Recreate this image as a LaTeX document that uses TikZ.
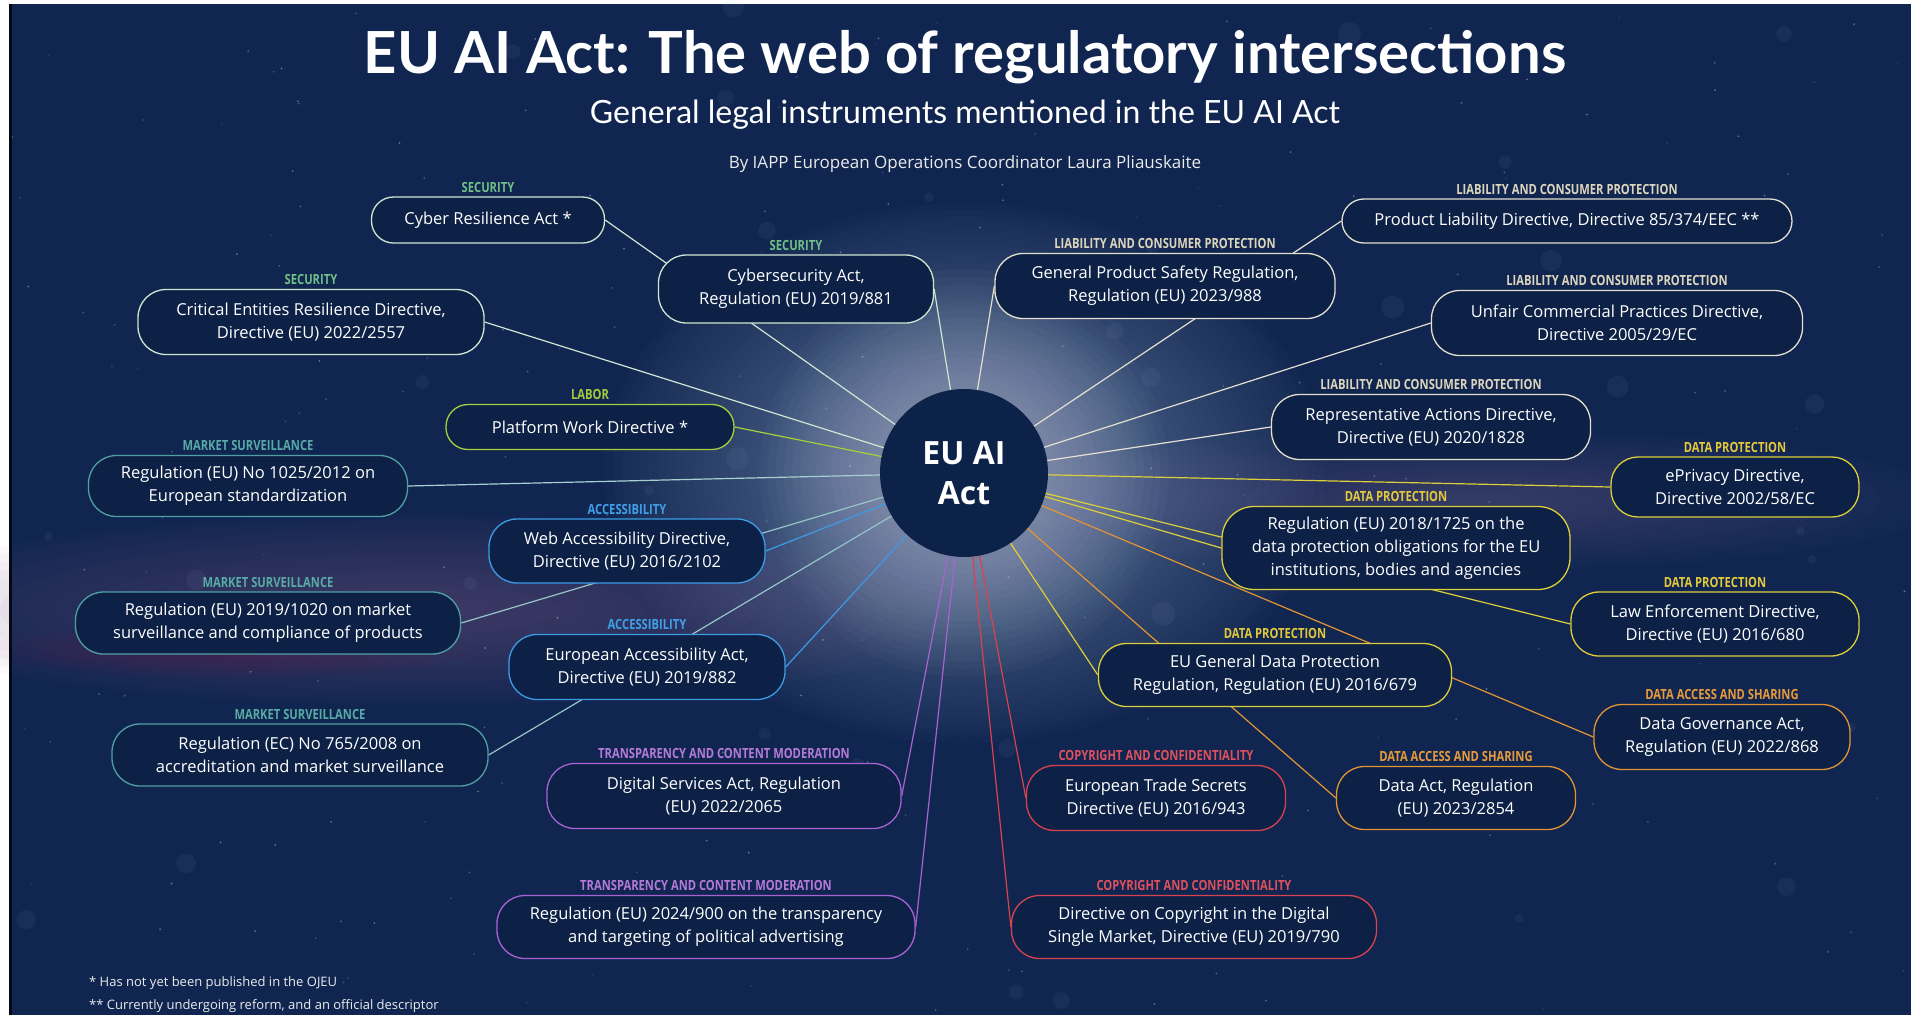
\documentclass[tikz,border=0pt]{standalone}
\usepackage{fontspec}
\setmainfont{Open Sans}
\newfontfamily\latofont{Lato}
\newfontfamily\catfont[FakeStretch=0.8]{Open Sans}
\pgfdeclarelayer{bgl}
\pgfdeclarelayer{lnl}
\pgfsetlayers{bgl,lnl,main}
\definecolor{bgc}{RGB}{16,38,80}
\definecolor{boxfill}{RGB}{13,33,70}
\definecolor{hubc}{RGB}{13,34,72}
\definecolor{glowc}{RGB}{180,198,236}
\definecolor{hazeL}{RGB}{125,85,145}
\definecolor{hazeR}{RGB}{115,105,155}
\definecolor{secB}{HTML}{CFE6D2}
\definecolor{secL}{HTML}{6FBF86}
\definecolor{liabB}{HTML}{E4E0D0}
\definecolor{liabL}{HTML}{DDD6BC}
\definecolor{lbB}{HTML}{A6CF3C}
\definecolor{lbL}{HTML}{A3C93D}
\definecolor{mkB}{HTML}{4F9FA3}
\definecolor{mkL}{HTML}{57AAA5}
\definecolor{acB}{HTML}{3D9BE6}
\definecolor{acL}{HTML}{3F9FE8}
\definecolor{trB}{HTML}{A962D3}
\definecolor{trL}{HTML}{B57AD9}
\definecolor{cpB}{HTML}{D9424F}
\definecolor{cpL}{HTML}{E0505C}
\definecolor{daB}{HTML}{E39535}
\definecolor{daL}{HTML}{E89A3A}
\definecolor{dpB}{HTML}{DCCF3A}
\definecolor{dpL}{HTML}{E3C93B}
\tikzset{
  box/.style={draw=#1, fill=boxfill, line width=1.3pt, rounded corners=22pt,
    text=white, align=center, inner sep=0pt,
    font=\fontsize{16.5}{23}\selectfont},
  cat/.style={text=#1, inner sep=1pt, font=\catfont\bfseries\fontsize{14}{15}\selectfont},
  ln/.style={draw=#1, line width=1.2pt},
  every label/.style={label distance=3pt}
}
\begin{document}
\begin{tikzpicture}[x=1pt,y=-1pt]
\useasboundingbox (0,0) rectangle (1911,1015);

% ---------- nodes ----------
\node[circle, fill=hubc, minimum size=168pt, inner sep=0pt, text=white, align=center,
  font=\bfseries\fontsize{32}{40}\selectfont] (hub) at (964,473) {EU AI\\Act};

\node[box=secB, minimum width=233pt, minimum height=46pt, label={[cat=secL]above:SECURITY}] (cra) at (488,220) {Cyber Resilience Act *};
\node[box=secB, minimum width=346pt, minimum height=65pt, rounded corners=28pt, label={[cat=secL]above:SECURITY}] (cer) at (311,322) {Critical Entities Resilience Directive,\\Directive (EU) 2022/2557};
\node[box=secB, minimum width=275pt, minimum height=68pt, rounded corners=28pt, label={[cat=secL]above:SECURITY}] (csa) at (796,289) {Cybersecurity Act,\\Regulation (EU) 2019/881};

\node[box=liabB, minimum width=340pt, minimum height=65pt, rounded corners=28pt, label={[cat=liabL]above:LIABILITY AND CONSUMER PROTECTION}] (gpsr) at (1165,286) {General Product Safety Regulation,\\Regulation (EU) 2023/988};
\node[box=liabB, minimum width=450pt, minimum height=44pt, label={[cat=liabL]above:LIABILITY AND CONSUMER PROTECTION}] (pld) at (1567,221) {Product Liability Directive, Directive 85/374/EEC **};
\node[box=liabB, minimum width=371pt, minimum height=65pt, rounded corners=28pt, label={[cat=liabL]above:LIABILITY AND CONSUMER PROTECTION}] (ucpd) at (1617,323) {Unfair Commercial Practices Directive,\\Directive 2005/29/EC};
\node[box=liabB, minimum width=319pt, minimum height=65pt, rounded corners=28pt, label={[cat=liabL]above:LIABILITY AND CONSUMER PROTECTION}] (rad) at (1431,427) {Representative Actions Directive,\\Directive (EU) 2020/1828};

\node[box=dpB, minimum width=248pt, minimum height=60pt, rounded corners=27pt, label={[cat=dpL]above:DATA PROTECTION}] (epd) at (1735,487) {ePrivacy Directive,\\Directive 2002/58/EC};
\node[box=dpB, minimum width=348pt, minimum height=83pt, rounded corners=32pt, label={[cat=dpL]above:DATA PROTECTION}] (r1725) at (1396,548) {Regulation (EU) 2018/1725 on the\\data protection obligations for the EU\\institutions, bodies and agencies};
\node[box=dpB, minimum width=288pt, minimum height=64pt, rounded corners=28pt, label={[cat=dpL]above:DATA PROTECTION}] (led) at (1715,624) {Law Enforcement Directive,\\Directive (EU) 2016/680};
\node[box=dpB, minimum width=353pt, minimum height=63pt, rounded corners=28pt, label={[cat=dpL]above:DATA PROTECTION}] (gdpr) at (1275,675) {EU General Data Protection\\Regulation, Regulation (EU) 2016/679};

\node[box=daB, minimum width=256pt, minimum height=65pt, rounded corners=28pt, label={[cat=daL]above:DATA ACCESS AND SHARING}] (dga) at (1722,737) {Data Governance Act,\\Regulation (EU) 2022/868};
\node[box=daB, minimum width=239pt, minimum height=63pt, rounded corners=28pt, label={[cat=daL]above:DATA ACCESS AND SHARING}] (dact) at (1456,798) {Data Act, Regulation\\(EU) 2023/2854};

\node[box=cpB, minimum width=259pt, minimum height=65pt, rounded corners=28pt, label={[cat=cpL]above:COPYRIGHT AND CONFIDENTIALITY}] (ets) at (1156,798) {European Trade Secrets\\Directive (EU) 2016/943};
\node[box=cpB, minimum width=365pt, minimum height=63pt, rounded corners=28pt, label={[cat=cpL]above:COPYRIGHT AND CONFIDENTIALITY}] (cdsm) at (1194,927) {Directive on Copyright in the Digital\\Single Market, Directive (EU) 2019/790};

\node[box=trB, minimum width=354pt, minimum height=65pt, rounded corners=28pt, label={[cat=trL]above:TRANSPARENCY AND CONTENT MODERATION}] (dsa) at (724,796) {Digital Services Act, Regulation\\(EU) 2022/2065};
\node[box=trB, minimum width=418pt, minimum height=63pt, rounded corners=28pt, label={[cat=trL]above:TRANSPARENCY AND CONTENT MODERATION}] (r900) at (706,927) {Regulation (EU) 2024/900 on the transparency\\and targeting of political advertising};

\node[box=mkB, minimum width=376pt, minimum height=62pt, rounded corners=28pt, label={[cat=mkL]above:MARKET SURVEILLANCE}] (r765) at (300,755) {Regulation (EC) No 765/2008 on\\accreditation and market surveillance};
\node[box=acB, minimum width=276pt, minimum height=65pt, rounded corners=28pt, label={[cat=acL]above:ACCESSIBILITY}] (eaa) at (647,667) {European Accessibility Act,\\Directive (EU) 2019/882};
\node[box=mkB, minimum width=385pt, minimum height=62pt, rounded corners=28pt, label={[cat=mkL]above:MARKET SURVEILLANCE}] (r1020) at (268,623) {Regulation (EU) 2019/1020 on market\\surveillance and compliance of products};
\node[box=acB, minimum width=276pt, minimum height=64pt, rounded corners=28pt, label={[cat=acL]above:ACCESSIBILITY}] (wad) at (627,551) {Web Accessibility Directive,\\Directive (EU) 2016/2102};
\node[box=mkB, minimum width=319pt, minimum height=61pt, rounded corners=28pt, label={[cat=mkL]above:MARKET SURVEILLANCE}] (r1025) at (248,486) {Regulation (EU) No 1025/2012 on\\European standardization};
\node[box=lbB, minimum width=288pt, minimum height=45pt, label={[cat=lbL]above:LABOR}] (pwd) at (590,427) {Platform Work Directive *};

% ---------- titles ----------
\node[anchor=base, text=white, font=\latofont\bfseries\fontsize{58}{64}\selectfont, inner sep=0pt] (title) at (965,73) {EU AI Act: The web of regulatory intersections};
\node[anchor=base, text=white, font=\latofont\fontsize{32}{36}\selectfont, inner sep=0pt] (subtitle) at (965,123) {General legal instruments mentioned in the EU AI Act};
\node[anchor=base, text=white!92!black, font=\fontsize{17}{20}\selectfont, inner sep=0pt] (byline) at (965,168) {By IAPP European Operations Coordinator Laura Pliauskaite};

\node[anchor=base west, text=white!92!black, font=\fontsize{13}{15}\selectfont, inner sep=0pt] (fn1) at (89,986) {* Has not yet been published in the OJEU};
\node[anchor=base west, text=white!92!black, font=\fontsize{13}{15}\selectfont, inner sep=0pt] (fn2) at (89,1009) {** Currently undergoing reform, and an official descriptor};

% ---------- connectors ----------
\begin{pgfonlayer}{lnl}
\draw[ln=secB] (hub.center) -- (cra.east);
\draw[ln=secB] (hub.center) -- (cer.east);
\draw[ln=secB] (hub.center) -- (csa.east);
\draw[ln=liabB] (hub.center) -- (gpsr.west);
\draw[ln=liabB] (hub.center) -- (pld.west);
\draw[ln=liabB] (hub.center) -- (ucpd.west);
\draw[ln=liabB] (hub.center) -- (rad.west);
\draw[ln=dpB] (hub.center) -- (epd.west);
\draw[ln=dpB] (hub.center) -- (r1725.west);
\draw[ln=dpB] (hub.center) -- (led.west);
\draw[ln=dpB] (hub.center) -- (gdpr.west);
\draw[ln=daB] (hub.center) -- (dga.west);
\draw[ln=daB] (hub.center) -- (dact.west);
\draw[ln=cpB] (hub.center) -- (ets.west);
\draw[ln=cpB] (hub.center) -- (cdsm.west);
\draw[ln=trB] (hub.center) -- (dsa.east);
\draw[ln=trB] (hub.center) -- (r900.east);
\draw[ln=mkB!60!white] (hub.center) -- (r765.east);
\draw[ln=acB] (hub.center) -- (eaa.east);
\draw[ln=mkB!60!white] (hub.center) -- (r1020.east);
\draw[ln=acB] (hub.center) -- (wad.east);
\draw[ln=mkB!50!white] (hub.center) -- (r1025.east);
\draw[ln=lbB] (hub.center) -- (pwd.east);
\end{pgfonlayer}

% ---------- background ----------
\begin{pgfonlayer}{bgl}
\fill[white] (0,0) rectangle (1911,1015);
\fill[bgc] (9,4) rectangle (1911,1015);
% haze bands
\foreach \k in {1,...,20} {
  \fill[hazeL, opacity=0.03] (420,610) ellipse [x radius={560*\k/20}, y radius={95*\k/20}];
  \fill[hazeR, opacity=0.028] (1480,500) ellipse [x radius={470*\k/20}, y radius={70*\k/20}];
}
\foreach \k in {1,...,10} {
  \fill[red!55!violet, opacity=0.018] (230,650) ellipse [x radius={240*\k/10}, y radius={28*\k/10}];
}
% central glow
\foreach \k in {1,...,40} {
  \fill[glowc, opacity=0.02] (964,473) ellipse [x radius={360*\k/40}, y radius={270*\k/40}];
}
\foreach \k in {1,...,15} {
  \fill[white, opacity=0.02] (964,473) circle [radius={(84+120*\k/15)*1pt}];
}
% stars
\pgfmathsetseed{7}
\foreach \i in {1,...,260} {
  \pgfmathsetmacro{\sx}{12+1895*rnd}
  \pgfmathsetmacro{\sy}{6+1005*rnd}
  \pgfmathsetmacro{\so}{0.08+0.3*rnd}
  \fill[white, opacity=\so] (\sx,\sy) circle[radius=1pt];
}
\foreach \i in {1,...,40} {
  \pgfmathsetmacro{\sx}{12+1895*rnd}
  \pgfmathsetmacro{\sy}{6+1005*rnd}
  \pgfmathsetmacro{\sr}{4+8*rnd}
  \fill[glowc, opacity=0.06] (\sx,\sy) circle[radius=\sr pt];
}
\fill[black!75!bgc] (9,4) rectangle (12,1015);
\end{pgfonlayer}
\end{tikzpicture}
\end{document}
